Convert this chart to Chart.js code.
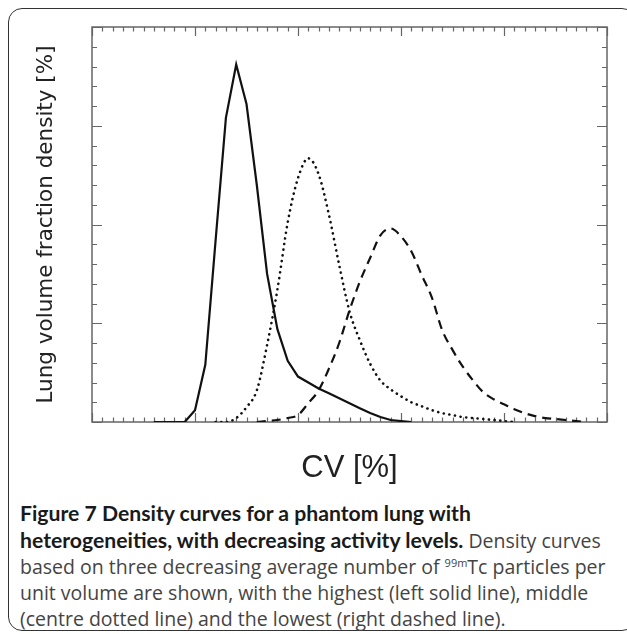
<!DOCTYPE html>
<html>
<head>
<meta charset="utf-8">
<script src="https://cdn.jsdelivr.net/npm/chart.js@4/dist/chart.umd.min.js"></script>
<style>
  html,body{margin:0;padding:0;background:#fff;width:627px;height:634px;overflow:hidden;}
  #box{position:absolute;left:8px;top:8px;width:628px;height:623px;border:1.5px solid #333;border-radius:14px;box-sizing:border-box;}
  #wrap{position:absolute;left:0;top:0;width:627px;height:500px;}
  #cap{position:absolute;left:20px;top:500px;font-family:"Open Sans",sans-serif;font-weight:400;font-size:19.5px;line-height:26px;color:#444;white-space:nowrap;}
  #cap b{font-family:"Lato",sans-serif;font-size:21.2px;color:#1a1a1a;font-weight:700;}
  #cap sup{font-size:11px;line-height:0;vertical-align:7px;}
</style>
</head>
<body>
<div id="box"></div>
<div id="wrap"><canvas id="c"></canvas></div>
<div id="cap"><b>Figure 7 Density curves for a phantom lung with<br>heterogeneities, with decreasing activity levels.</b> Density curves<br>based on three decreasing average number of <sup>99m</sup>Tc particles per<br>unit volume are shown, with the highest (left solid line), middle<br>(centre dotted line) and the lowest (right dashed line).</div>
<script>
// CV [%] values (x) and density values (y)
const solidX = [6,7,8,9,10,11,12,13,14,15,16,17,18,19,20,21,22,23,24,25,26,27,28,29,30,31];
const solidY = [0,0,0,0,0.6,2.9,9.2,15.4,18.1,16.1,12.0,7.5,4.7,3.1,2.3,2.0,1.7,1.45,1.2,0.95,0.7,0.45,0.25,0.1,0.05,0];
const dottedX = [12,13,14,15,16,17,18,19,20,21,22,23,24,25,26,27,28,29,30,31,32,33,34,35,36,37,38,39,40,41];
const dottedY = [0,0,0.2,0.75,1.6,3.9,6.7,10.1,12.35,13.35,12.55,10.5,7.95,5.6,4.15,2.95,2.1,1.65,1.3,1.0,0.8,0.6,0.45,0.35,0.25,0.2,0.15,0.1,0.05,0];
const dashedX = [16,17,18,19,20,21,22,23,24,25,26,27,28,29,30,31,32,33,34,35,36,37,38,39,40,41,42,43,44,45,46,47,48];
const dashedY = [0,0.05,0.1,0.2,0.35,0.95,1.6,2.7,4.0,5.65,7.1,8.3,9.45,9.8,9.4,8.65,7.45,6.3,4.65,3.65,2.8,2.1,1.5,1.15,0.9,0.65,0.45,0.3,0.2,0.15,0.1,0.05,0];
const xMin = 0, xMax = 50, xMinorStep = 1, xMajorStep = 10;
const yMin = 0, yMax = 20, yMinorStep = 1, yMajorStep = 5;

const pts = (xs, ys) => xs.map((x, i) => ({x, y: ys[i]}));

const framePlugin = {
  id: 'frame',
  beforeDatasetsDraw(chart) {
    const {ctx, chartArea: a, scales: {x, y}} = chart;
    ctx.save();
    ctx.strokeStyle = '#666';
    ctx.lineWidth = 1.5;
    ctx.strokeRect(a.left, a.top, a.right - a.left, a.bottom - a.top);
    ctx.lineWidth = 1.2;
    ctx.beginPath();
    for (let v = xMin; v <= xMax + 1e-9; v += xMinorStep) {
      const px = Math.round(x.getPixelForValue(v)) + 0.5;
      const len = (Math.abs(v % xMajorStep) < 1e-9) ? 9 : 4.5;
      ctx.moveTo(px, a.bottom); ctx.lineTo(px, a.bottom - len);
      ctx.moveTo(px, a.top); ctx.lineTo(px, a.top + len);
    }
    for (let v = yMin; v <= yMax + 1e-9; v += yMinorStep) {
      const py = Math.round(y.getPixelForValue(v)) + 0.5;
      const len = (Math.abs(v % yMajorStep) < 1e-9) ? 10 : 5;
      ctx.moveTo(a.left, py); ctx.lineTo(a.left + len, py);
      ctx.moveTo(a.right, py); ctx.lineTo(a.right - len, py);
    }
    ctx.stroke();
    ctx.restore();
  }
};

new Chart(document.getElementById('c'), {
  type: 'line',
  data: {
    datasets: [
      {data: pts(solidX, solidY), borderColor: '#111', borderWidth: 2.2, pointRadius: 0, tension: 0},
      {data: pts(dottedX, dottedY), borderColor: '#111', borderWidth: 2.6, borderDash: [0.1, 5.6], borderCapStyle: 'round', pointRadius: 0, cubicInterpolationMode: 'monotone'},
      {data: pts(dashedX, dashedY), borderColor: '#111', borderWidth: 2.2, borderDash: [9, 6], pointRadius: 0, cubicInterpolationMode: 'monotone'}
    ]
  },
  options: {
    responsive: true,
    maintainAspectRatio: false,
    animation: false,
    events: [],
    layout: {padding: {top: 27, right: 20, left: 0, bottom: 0}},
    plugins: {legend: {display: false}, tooltip: {enabled: false}},
    scales: {
      x: {
        type: 'linear', min: xMin, max: xMax,
        ticks: {display: false},
        grid: {display: false, drawTicks: false},
        border: {display: false},
        title: {display: true, text: 'CV [%]', color: '#222', font: {family: 'Liberation Sans', size: 31}, padding: {top: 0, bottom: 13}},
        afterFit(s) { s.height = 78; }
      },
      y: {
        type: 'linear', min: yMin, max: yMax,
        ticks: {display: false},
        grid: {display: false, drawTicks: false},
        border: {display: false},
        title: {display: true, text: 'Lung volume fraction density [%]', color: '#222', font: {family: 'DejaVu Sans', size: 21.5}, padding: {top: 34, bottom: 0}},
        afterFit(s) { s.width = 92; }
      }
    }
  },
  plugins: [framePlugin]
});
</script>
</body>
</html>
